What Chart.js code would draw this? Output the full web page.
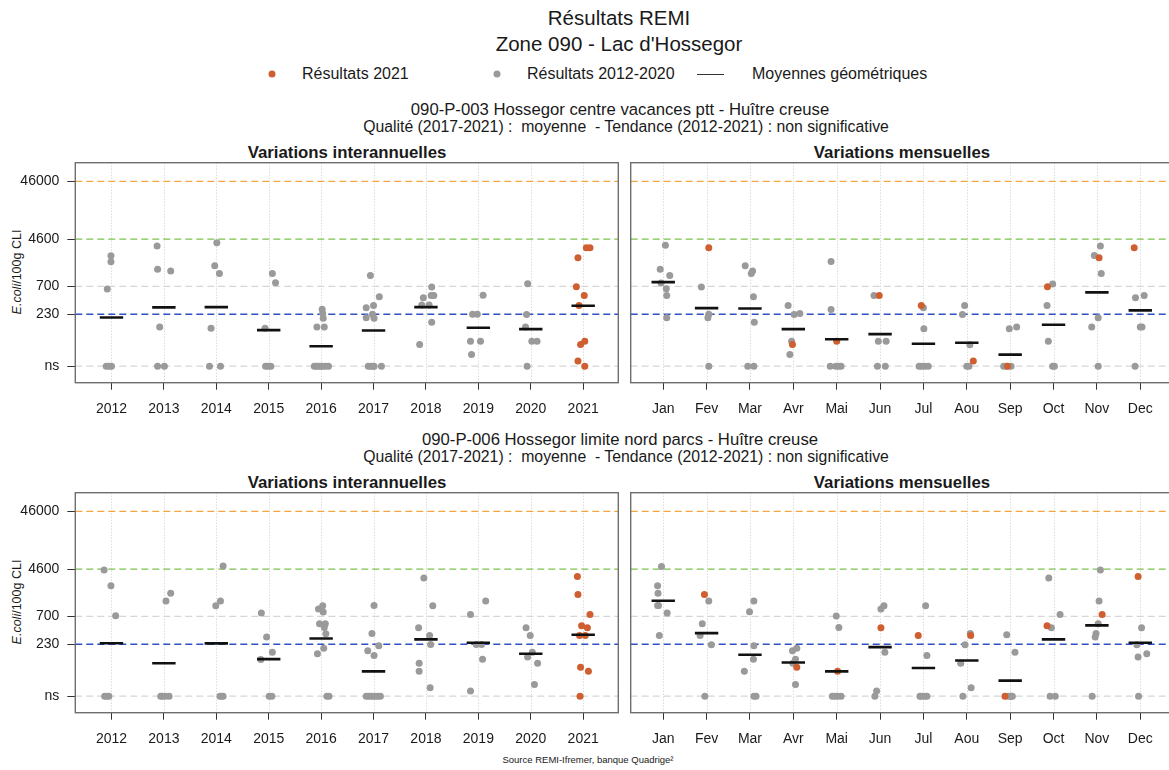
<!DOCTYPE html>
<html lang="fr">
<head>
<meta charset="utf-8">
<title>Résultats REMI - Zone 090 - Lac d'Hossegor</title>
<script src="https://cdn.jsdelivr.net/npm/chart.js@4.4.1/dist/chart.umd.min.js"></script>
<style>
  html, body { margin: 0; padding: 0; background: #fff; overflow: hidden; }
  body { width: 1169px; height: 770px; position: relative; font-family: "Liberation Sans", Arial, sans-serif; color: #1a1a1a; }
  .t { position: absolute; white-space: nowrap; transform: translate(-50%, -50%); line-height: 1; }
  .l { position: absolute; white-space: nowrap; transform: translateY(-50%); line-height: 1; font-size: 16px; }
  .dot { position: absolute; width: 7px; height: 7px; border-radius: 50%; transform: translate(-50%, -50%); }
  .ylab { position: absolute; white-space: nowrap; font-size: 12.5px; transform: translate(-50%, -50%) rotate(-90deg); }
  canvas { position: absolute; }
</style>
</head>
<body>

<div class="t" style="left:619px; top:18px; font-size:20.5px">Résultats REMI</div>
<div class="t" style="left:619px; top:44px; font-size:20.5px">Zone 090 - Lac d'Hossegor</div>

<div class="dot" style="left:272px; top:74px; background:#cf5f30"></div>
<div class="l" style="left:302px; top:74px">Résultats 2021</div>
<div class="dot" style="left:497px; top:74px; background:#9a9a9a"></div>
<div class="l" style="left:527px; top:74px">Résultats 2012-2020</div>
<div style="position:absolute; left:697px; top:74px; width:27px; height:1px; background:#333"></div>
<div class="l" style="left:752px; top:74px">Moyennes géométriques</div>

<div class="t" style="left:620px; top:110px; font-size:16.7px">090-P-003 Hossegor centre vacances ptt - Huître creuse</div>
<div class="t" style="left:626px; top:127px; font-size:15.8px">Qualité (2017-2021) :&nbsp; moyenne&nbsp; - Tendance (2012-2021) : non significative</div>
<div class="t" style="left:347px; top:153px; font-size:16.8px; font-weight:bold">Variations interannuelles</div>
<div class="t" style="left:902px; top:153px; font-size:16.8px; font-weight:bold">Variations mensuelles</div>
<div class="ylab" style="left:17px; top:272px"><i>E.coli</i>/100g CLI</div>

<div class="t" style="left:620px; top:440px; font-size:16.7px">090-P-006 Hossegor limite nord parcs - Huître creuse</div>
<div class="t" style="left:626px; top:457px; font-size:15.8px">Qualité (2017-2021) :&nbsp; moyenne&nbsp; - Tendance (2012-2021) : non significative</div>
<div class="t" style="left:347px; top:483px; font-size:16.8px; font-weight:bold">Variations interannuelles</div>
<div class="t" style="left:902px; top:483px; font-size:16.8px; font-weight:bold">Variations mensuelles</div>
<div class="ylab" style="left:17px; top:602px"><i>E.coli</i>/100g CLI</div>

<div class="t" style="left:588px; top:760px; font-size:9.5px">Source REMI-Ifremer, banque Quadrige²</div>

<canvas id="an003" width="625" height="260" style="left:0; top:160px"></canvas>
<canvas id="mois003" width="555" height="260" style="left:625px; top:160px"></canvas>
<canvas id="an006" width="625" height="260" style="left:0; top:490px"></canvas>
<canvas id="mois006" width="555" height="260" style="left:625px; top:490px"></canvas>

<script>
// Les résultats "ns" sont tracés sur la ligne du bas, à cette valeur.
const NS = 29;

const YEARS = [2012, 2013, 2014, 2015, 2016, 2017, 2018, 2019, 2020, 2021];
const MONTH_NUMS = [1, 2, 3, 4, 5, 6, 7, 8, 9, 10, 11, 12];
const MONTHS = ["Jan", "Fev", "Mar", "Avr", "Mai", "Jun", "Jul", "Aou", "Sep", "Oct", "Nov", "Dec"];

// seuils (lignes pointillées) et étiquettes de l'axe y
const SEUILS = [46000, 4600, 700, 230, NS];
const SEUIL_LABELS = ["46000", "4600", "700", "230", "ns"];
const SEUIL_COLORS = ["#f4a640", "#7cc24e", "#d6d6d6", "#2f4fc4", "#d6d6d6"];

const GREY = "#9a9a9a";
const ORANGE = "#cf5f30";

// 090-P-003 : [x (année ou mois, avec décalage), E.coli/100g CLI]
const p003AnGris = [
    [2011.99, 2370], [2011.99, 1870], [2011.92, 627], [2011.9, NS], [2011.95, NS], [2012.0, NS],
    [2012.87, 3490], [2012.88, 1390], [2013.13, 1290], [2012.92, 138], [2012.88, NS], [2013.01, NS],
    [2014.01, 3980], [2013.97, 1590], [2014.06, 1170], [2013.9, 131], [2013.87, NS], [2014.08, NS],
    [2015.07, 1170], [2015.13, 807], [2014.93, 131], [2014.94, NS], [2014.99, NS], [2015.04, NS],
    [2016.02, 282], [2016.03, 237], [2016.04, 197], [2015.92, 138], [2016.06, 138],
    [2015.87, NS], [2015.91, NS], [2015.95, NS], [2015.99, NS], [2016.03, NS], [2016.08, NS], [2016.14, NS],
    [2016.94, 1080], [2017.11, 461], [2016.86, 298], [2017.0, 327], [2016.98, 231], [2016.86, 200], [2017.01, 197],
    [2016.9, NS], [2016.95, NS], [2016.99, NS], [2017.01, NS], [2017.15, NS],
    [2018.11, 679], [2017.95, 443], [2018.1, 487], [2018.15, 487], [2017.92, 331], [2018.06, 331], [2018.11, 168], [2017.88, 69],
    [2019.09, 493], [2018.89, 231], [2018.98, 231], [2018.85, 78], [2019.04, 78], [2018.87, 46],
    [2019.94, 776], [2019.92, 228], [2019.9, 139], [2020.02, 78], [2020.12, 78], [2019.93, NS],
];
const p003AnOrange = [
    [2021.06, 3270], [2021.13, 3270], [2020.9, 2190], [2020.87, 688], [2021.02, 487],
    [2020.92, 327], [2020.95, 69], [2021.03, 78], [2020.9, 35.5], [2021.03, NS],
];
const p003AnMoy = [202, 302, 306, 122, 64, 120, 306, 134, 127, 322];

const p003MoisGris = [
    [1.05, 3600], [0.93, 1390], [1.15, 1080], [0.95, 796], [1.07, 636], [1.08, 487], [1.08, 200],
    [1.88, 679], [2.05, 231], [2.03, 200], [2.05, NS],
    [2.89, 1590], [3.06, 1290], [3.03, 1170], [3.08, 461], [3.1, 168], [2.95, NS], [3.09, NS],
    [3.88, 327], [4.02, 228], [4.15, 237], [3.96, 78], [3.92, 46],
    [4.87, 1890], [4.87, 279], [4.85, NS], [4.98, NS], [5.04, NS], [5.1, NS],
    [5.86, 487], [5.96, 78], [6.14, 78], [5.94, NS], [6.12, NS],
    [7.0, 298], [7.01, 129], [6.9, NS], [6.95, NS], [7.03, NS], [7.11, NS],
    [7.95, 327], [7.9, 228], [8.07, 68], [8.0, NS], [8.05, NS],
    [8.98, 129], [9.15, 138], [8.85, NS], [8.92, NS], [9.02, NS],
    [9.98, 766], [9.85, 327], [9.88, 78], [9.98, NS], [10.02, NS],
    [11.08, 3490], [10.94, 2400], [11.1, 1170], [10.88, 138], [11.03, 200], [11.03, NS],
    [11.89, 443], [12.09, 487], [12.0, 138], [12.04, 138], [11.88, NS],
];
const p003MoisOrange = [
    [2.05, 3270], [3.98, 69], [5.0, 78], [5.98, 487], [6.95, 327],
    [8.15, 35.5], [8.94, NS], [9.86, 688], [11.05, 2190], [11.86, 3270],
];
const p003MoisMoy = [829, 294, 290, 127, 85, 104, 71, 74, 46, 151, 550, 268];

// 090-P-006
const p006AnGris = [
    [2011.86, 4440], [2011.99, 2370], [2012.08, 716], [2011.87, NS], [2011.91, NS], [2011.95, NS],
    [2013.04, 1290], [2013.13, 1750], [2012.94, NS], [2012.97, NS], [2013.03, NS], [2013.1, NS],
    [2014.13, 5200], [2014.08, 1290], [2013.99, 1070], [2014.07, NS], [2014.1, NS], [2014.13, NS],
    [2014.86, 796], [2014.96, 306], [2015.07, 168], [2014.85, 125], [2015.01, NS], [2015.06, NS],
    [2015.95, 935], [2016.03, 1070], [2016.04, 829], [2015.97, 520], [2016.08, 520], [2016.06, 450],
    [2016.09, 349], [2016.05, 197], [2015.93, 157], [2016.11, NS], [2016.15, NS],
    [2017.01, 1080], [2016.97, 354], [2017.1, 216], [2016.89, 177], [2017.01, 147],
    [2016.86, NS], [2016.9, NS], [2016.94, NS], [2016.99, NS], [2017.03, NS], [2017.08, NS], [2017.13, NS],
    [2017.96, 3220], [2018.13, 1070], [2017.86, 443], [2018.07, 327], [2018.09, 228], [2017.87, 108], [2017.87, 78], [2018.08, 40.5],
    [2019.14, 1290], [2018.85, 755], [2018.96, 228], [2019.06, 228], [2019.08, 127], [2018.85, 35.5],
    [2019.91, 443], [2019.99, 327], [2020.03, 168], [2019.94, 139], [2020.13, 108], [2020.07, 46],
];
const p006AnOrange = [
    [2020.89, 3440], [2020.9, 1680], [2021.13, 755], [2020.97, 481], [2021.08, 443],
    [2020.93, 327], [2021.04, 327], [2020.95, 92], [2021.1, 78], [2020.94, NS],
];
const p006AnMoy = [240, 108, 238, 127, 290, 78, 279, 244, 157, 336];

const p006MoisGris = [
    [0.96, 5130], [0.87, 2370], [0.88, 1750], [0.87, 1080], [0.89, 1080], [1.09, 796], [0.91, 327],
    [2.05, 1290], [1.9, 520], [1.85, 327], [2.11, 225], [1.96, NS],
    [3.09, 1290], [2.99, 840], [3.09, 216], [3.08, 127], [2.87, 78], [3.09, NS], [3.14, NS],
    [3.98, 177], [4.08, 197], [4.05, 127], [3.99, 108], [4.05, 46],
    [4.99, 707], [5.05, 450], [4.9, NS], [4.96, NS], [5.02, NS], [5.1, NS],
    [6.02, 935], [6.09, 1070], [6.11, 168], [5.92, 35.5], [5.88, NS],
    [7.05, 1070], [7.08, 147], [6.92, NS], [6.95, NS], [7.03, NS], [7.08, NS],
    [8.08, 354], [7.96, 225], [7.86, 108], [8.1, 40.5], [7.91, NS],
    [8.92, 336], [9.11, 168], [8.95, NS], [9.01, NS], [9.02, NS], [9.05, NS],
    [9.89, 3220], [10.15, 755], [9.95, 443], [9.92, NS], [10.04, NS],
    [11.08, 4440], [11.05, 1290], [11.03, 520], [10.98, 354], [10.96, 306], [10.89, NS],
    [12.03, 443], [11.92, 225], [12.15, 157], [11.95, 139], [11.96, NS],
];
const p006MoisOrange = [
    [1.95, 1680], [4.08, 92], [5.02, 78], [6.02, 443], [6.88, 327],
    [8.09, 327], [8.88, NS], [9.85, 481], [11.12, 755], [11.95, 3440],
];
const p006MoisMoy = [1300, 359, 151, 111, 78, 205, 89, 120, 54, 279, 488, 244];

Chart.defaults.font.family = '"Liberation Sans", Arial, sans-serif';
Chart.defaults.color = "#1a1a1a";

// Lignes de seuil, grille verticale pointillée et cadre du panneau
const panelDecor = {
    id: "panelDecor",
    beforeDatasetsDraw(chart) {
        const { ctx, chartArea: a, scales: { x, y } } = chart;
        ctx.save();
        ctx.beginPath();
        ctx.rect(a.left, a.top, a.width, a.height);
        ctx.clip();

        ctx.strokeStyle = "#cccccc";
        ctx.lineWidth = 1;
        ctx.setLineDash([1, 2]);
        for (const t of x.ticks) {
            const px = Math.round(x.getPixelForValue(t.value)) + 0.5;
            ctx.beginPath();
            ctx.moveTo(px, a.top);
            ctx.lineTo(px, a.bottom);
            ctx.stroke();
        }

        ctx.lineWidth = 1.3;
        ctx.setLineDash([7, 4]);
        SEUILS.forEach((v, i) => {
            const py = y.getPixelForValue(v);
            ctx.strokeStyle = SEUIL_COLORS[i];
            ctx.beginPath();
            ctx.moveTo(a.left, py);
            ctx.lineTo(a.right, py);
            ctx.stroke();
        });
        ctx.restore();
    },
    afterDraw(chart) {
        const { ctx, chartArea: a } = chart;
        ctx.save();
        ctx.strokeStyle = "#6e6e6e";
        ctx.lineWidth = 1.4;
        ctx.strokeRect(a.left, a.top, a.width, a.height);
        ctx.restore();
    },
};

// no automatic label padding: the plot box has to sit exactly where the reference has it
function fixBox(s, size) {
    if (s.isHorizontal())
        s.height = size;
    else
        s.width = size;
    s.paddingTop = s.paddingBottom = s.paddingLeft = s.paddingRight = 0;
}

function drawPanel(id, cfg) {
    new Chart(document.getElementById(id), {
        type: "scatter",
        data: {
            datasets: [
                {
                    // moyennes géométriques, dessinées par-dessus les points
                    data: cfg.means.map((v, i) => [cfg.ticks[i], v]),
                    pointStyle: "line",
                    pointRadius: 11.7,
                    pointBorderWidth: 2.6,
                    pointBorderColor: "#111111",
                },
                {
                    data: cfg.orange,
                    pointRadius: 3.5,
                    pointBorderWidth: 0,
                    pointBackgroundColor: ORANGE,
                },
                {
                    data: cfg.grey,
                    pointRadius: 3.5,
                    pointBorderWidth: 0,
                    pointBackgroundColor: GREY,
                },
            ],
        },
        options: {
            responsive: false,
            animation: false,
            events: [],
            devicePixelRatio: 1,
            layout: {
                autoPadding: false,
                padding: { top: 2.7, right: cfg.padRight, left: cfg.padLeft, bottom: 0 },
            },
            plugins: {
                legend: { display: false },
                tooltip: { enabled: false },
            },
            scales: {
                x: {
                    type: "linear",
                    min: cfg.min,
                    max: cfg.max,
                    afterBuildTicks: (s) => {
                        s.ticks = cfg.ticks.map((v) => ({ value: v }));
                    },
                    afterFit: (s) => fixBox(s, 37.3),
                    border: { display: false },
                    grid: {
                        drawOnChartArea: false,
                        drawTicks: true,
                        tickLength: 7,
                        tickColor: "#333333",
                        tickWidth: 1,
                    },
                    ticks: {
                        autoSkip: false,
                        maxRotation: 0,
                        padding: 11,
                        font: { size: 14 },
                        callback: (v) => cfg.labels[cfg.ticks.indexOf(v)],
                    },
                },
                y: {
                    type: "logarithmic",
                    min: 15,
                    max: 97000,
                    display: cfg.yAxis,
                    afterBuildTicks: (s) => {
                        s.ticks = SEUILS.map((v) => ({ value: v }));
                    },
                    afterFit: (s) => fixBox(s, cfg.yAxis ? 75.3 : 0),
                    border: { display: false },
                    grid: {
                        drawOnChartArea: false,
                        drawTicks: true,
                        tickLength: 8,
                        tickColor: "#333333",
                        tickWidth: 1,
                    },
                    ticks: {
                        padding: 8,
                        font: { size: 14 },
                        callback: (v) => SEUIL_LABELS[SEUILS.indexOf(v)],
                    },
                },
            },
        },
        plugins: [panelDecor],
    });
}

const annual = { ticks: YEARS, labels: YEARS.map(String), min: 2011.31, max: 2021.67, yAxis: true, padLeft: 0, padRight: 6.7 };
const monthly = { ticks: MONTH_NUMS, labels: MONTHS, min: 0.25, max: 12.75, yAxis: false, padLeft: 5.7, padRight: 7.2 };

drawPanel("an003", { ...annual, grey: p003AnGris, orange: p003AnOrange, means: p003AnMoy });
drawPanel("mois003", { ...monthly, grey: p003MoisGris, orange: p003MoisOrange, means: p003MoisMoy });
drawPanel("an006", { ...annual, grey: p006AnGris, orange: p006AnOrange, means: p006AnMoy });
drawPanel("mois006", { ...monthly, grey: p006MoisGris, orange: p006MoisOrange, means: p006MoisMoy });
</script>
</body>
</html>
